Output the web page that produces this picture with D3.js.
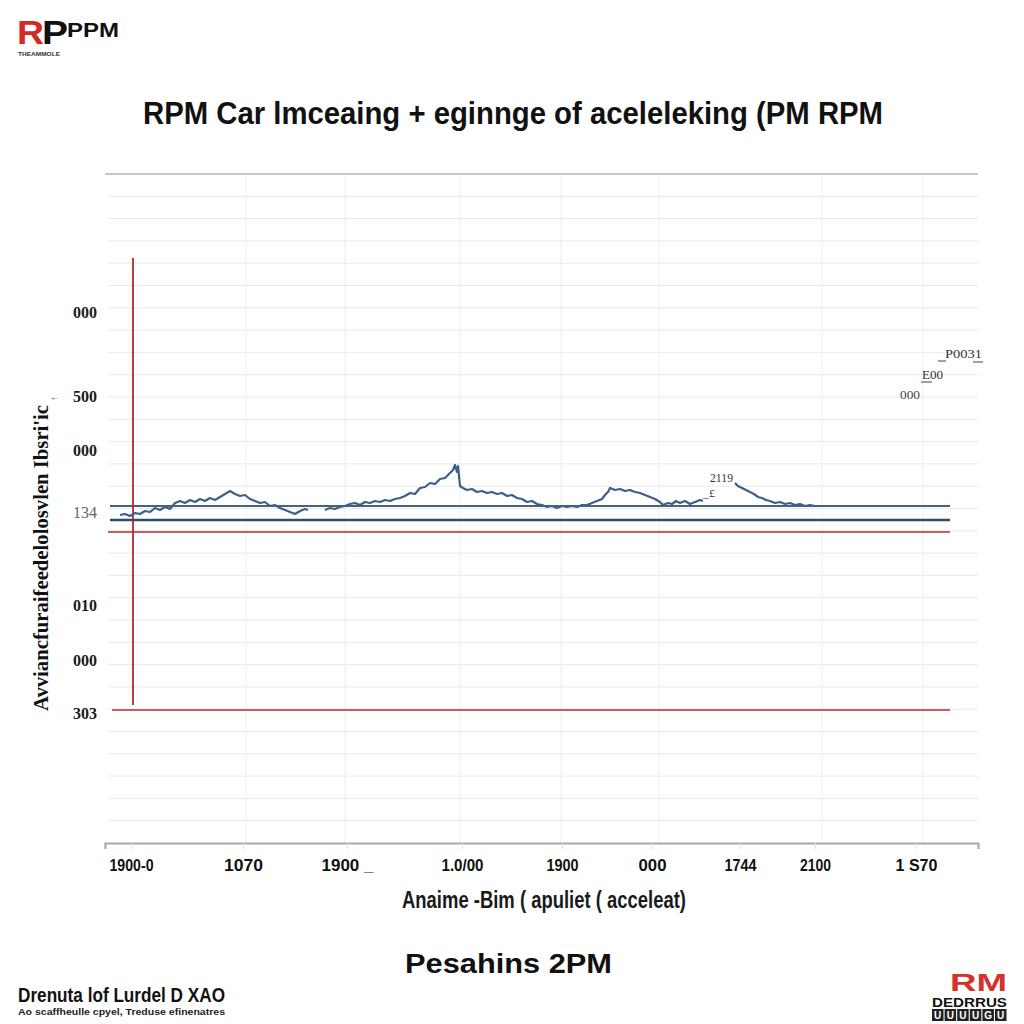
<!DOCTYPE html>
<html><head><meta charset="utf-8">
<script src="https://cdn.jsdelivr.net/npm/d3@7"></script>
<style>body{margin:0;background:#fff} svg{display:block}</style>
</head><body>
<svg id="c" width="1024" height="1024"></svg>
<script>
// ---- data ----
const xTickValues = [2.6, 13.8, 24.2, 35.7, 45.7, 54.7, 63.5, 71.0, 81.1];
const xTickLabels = ["1900-0", "1070", "1900 _", "1.0/00", "1900", "000", "1744", "2100", "1 S70"];
const yTickValues = [2655, 2235, 1965, 1655, 1190, 915, 650];
const yTickLabels = ["000", "500", "000", "134", "010", "000", "303"];
const gridXValues = [14.1, 24.0, 35.5, 45.6, 55.4, 71.7, 81.8];
const blueRefValues = [1685, 1615];
const redRefValues = [1555, 665];
const redMarkerTime = 2.8;
const redMarkerRange = [690, 2925];

const rpmSeg1 = [[1.5,1640],[2.0,1645],[2.5,1635],[3.0,1650],[3.5,1645],[4.0,1660],[4.5,1655],[5.0,1675],[5.5,1665],[6.0,1680],
  [6.5,1670],[7.0,1700],[7.5,1710],[8.0,1700],[8.5,1715],[9.0,1705],[9.5,1720],[10.0,1710],[10.5,1725],[11.0,1715],
  [11.5,1730],[12.0,1745],[12.5,1760],[13.0,1745],[13.5,1735],[14.0,1740],[14.5,1720],[15.0,1710],[15.5,1700],[16.0,1705],
  [16.5,1685],[17.0,1690],[17.5,1675],[18.0,1665],[18.5,1655],[19.0,1645],[19.5,1660],[20.0,1670],[20.3,1665]];
const rpmSeg2 = [[22.0,1665],[22.5,1675],[23.0,1670],[23.5,1680],[24.0,1685],[24.5,1695],[25.0,1700],[25.5,1690],[26.0,1705],[26.5,1700],
  [27.0,1710],[27.5,1705],[28.0,1715],[28.5,1710],[29.0,1720],[29.5,1725],[30.0,1735],[30.5,1750],[31.0,1745],[31.5,1775],
  [32.0,1780],[32.5,1800],[33.0,1795],[33.5,1820],[34.0,1825],[34.5,1850],[34.8,1865],[35.0,1890],[35.2,1855],[35.3,1885],
  [35.5,1785],[35.8,1775],[36.2,1765],[36.7,1770],[37.2,1755],[37.7,1760],[38.2,1750],[38.7,1755],[39.2,1745],[39.7,1750],
  [40.2,1735],[40.7,1740],[41.2,1725],[41.7,1720],[42.2,1705],[42.7,1710],[43.2,1695],[43.7,1690],[44.2,1680],[44.7,1685],
  [45.2,1675],[45.7,1685],[46.2,1680],[46.7,1685],[47.2,1680],[47.7,1690],[48.2,1690],[48.7,1700],[49.2,1710],[49.7,1720],
  [50.0,1740],[50.3,1755],[50.5,1775],[51.0,1765],[51.5,1770],[52.0,1760],[52.5,1765],[53.0,1755],[53.5,1750],[54.0,1740],
  [54.5,1730],[55.0,1720],[55.5,1705],[55.8,1690],[56.3,1700],[56.7,1695],[57.1,1710],[57.5,1700],[58.0,1710],[58.5,1695],
  [59.0,1705],[59.5,1715],[59.8,1710]];
const rpmSeg3 = [[63.0,1800],[63.3,1785],[63.7,1775],[64.1,1765],[64.5,1755],[64.9,1745],[65.3,1730],[65.7,1725],[66.1,1715],[66.5,1710],
  [67.0,1700],[67.5,1705],[68.0,1695],[68.5,1700],[69.0,1690],[69.5,1695],[70.0,1685],[70.5,1690],[71.0,1685],[71.5,1685]];

// ---- chart ----
const svg = d3.select("#c");
const x = d3.scaleLinear().domain([0, 87.3]).range([105, 978]);
const y = d3.scaleLinear().domain([0, 3345]).range([843, 174]);

function txt(px, py, s, o) {
  const t = svg.append("text").attr("x", px).attr("y", py).text(s)
    .attr("font-family", o.family || "Liberation Sans")
    .attr("font-size", o.size || 14)
    .attr("font-weight", o.weight || "normal")
    .attr("fill", o.fill || "#111")
    .attr("text-anchor", o.anchor || "start");
  if (o.len) t.attr("textLength", o.len).attr("lengthAdjust", "spacingAndGlyphs");
  if (o.rotate) t.attr("transform", `rotate(${o.rotate},${px},${py})`);
  return t;
}

// horizontal grid
const yGrid = d3.range(1, 30).map(i => i * 3345 / 30);
svg.append("g").selectAll("line").data(yGrid).join("line")
  .attr("x1", x(0.3)).attr("x2", x(87.3)).attr("y1", d => y(d)).attr("y2", d => y(d))
  .attr("stroke", "#e9e9e9").attr("stroke-width", 1);
// vertical grid
svg.append("g").selectAll("line").data(gridXValues).join("line")
  .attr("x1", d => x(d)).attr("x2", d => x(d)).attr("y1", y(3345)).attr("y2", y(0))
  .attr("stroke", "#eeeeee").attr("stroke-width", 1);
// top border
svg.append("line").attr("x1", x(0)).attr("x2", x(87.3)).attr("y1", y(3345)).attr("y2", y(3345))
  .attr("stroke", "#b5b5b5").attr("stroke-width", 1.5);

// x axis
const xLabelWidths = [44, 39, 52, 42, 32, 28, 32, 31, 42];
const xAxis = d3.axisBottom(x).tickValues(xTickValues).tickFormat((d, i) => xTickLabels[i]).tickSize(6).tickPadding(10);
const gx = svg.append("g").attr("transform", `translate(0,${y(0)})`).call(xAxis);
gx.select(".domain").attr("stroke", "#a8a8a8").attr("stroke-width", 2.2);
gx.selectAll(".tick line").attr("stroke", "#dddddd");
gx.selectAll(".tick text").attr("font-family", "Liberation Sans Narrow, Liberation Sans, sans-serif")
  .attr("font-weight", "bold").attr("font-size", 17).attr("fill", "#111")
  .attr("textLength", (d, i) => xLabelWidths[i]).attr("lengthAdjust", "spacingAndGlyphs");

// y axis
const yAxis = d3.axisLeft(y).tickValues(yTickValues).tickFormat((d, i) => yTickLabels[i]).tickSize(0).tickPadding(8);
const gy = svg.append("g").attr("transform", `translate(${x(0)},0)`).call(yAxis);
gy.select(".domain").remove();
gy.selectAll(".tick text").attr("font-family", "Liberation Serif, serif").attr("font-weight", "bold")
  .attr("font-size", 16).attr("fill", "#1a1a1a")
  .filter((d, i) => i === 3).attr("font-weight", "normal").attr("fill", "#666");

// reference lines
svg.append("line").attr("x1", x(0.5)).attr("x2", x(84.5)).attr("y1", y(blueRefValues[0])).attr("y2", y(blueRefValues[0]))
  .attr("stroke", "#4a6178").attr("stroke-width", 2);
svg.append("line").attr("x1", x(0.5)).attr("x2", x(84.5)).attr("y1", y(blueRefValues[1])).attr("y2", y(blueRefValues[1]))
  .attr("stroke", "#2e4d6b").attr("stroke-width", 2.5);
svg.append("line").attr("x1", x(0.3)).attr("x2", x(84.5)).attr("y1", y(redRefValues[0])).attr("y2", y(redRefValues[0]))
  .attr("stroke", "#b8292b").attr("stroke-width", 1.6);
svg.append("line").attr("x1", x(0.7)).attr("x2", x(84.5)).attr("y1", y(redRefValues[1])).attr("y2", y(redRefValues[1]))
  .attr("stroke", "#b8292b").attr("stroke-width", 1.6);
svg.append("line").attr("x1", x(redMarkerTime)).attr("x2", x(redMarkerTime))
  .attr("y1", y(redMarkerRange[0])).attr("y2", y(redMarkerRange[1]))
  .attr("stroke", "#b3282b").attr("stroke-width", 1.8);

// data line
const line = d3.line().x(d => x(d[0])).y(d => y(d[1]));
svg.append("g").selectAll("path").data([rpmSeg1, rpmSeg2, rpmSeg3]).join("path")
  .attr("d", line).attr("fill", "none").attr("stroke", "#3d6089").attr("stroke-width", 2.2)
  .attr("stroke-linejoin", "round");

// annotations
txt(710, 482, "2119", {family: "Liberation Serif", size: 12, fill: "#333", len: 23});
txt(703, 497, "_£", {family: "Liberation Serif", size: 11, fill: "#333", len: 12});
txt(945, 358, "P0031", {family: "Liberation Serif", size: 12, fill: "#333", len: 37});
txt(922, 379, "E00", {family: "Liberation Serif", size: 12, fill: "#333", len: 21});
txt(900, 399, "000", {family: "Liberation Serif", size: 12, fill: "#444", len: 20});
svg.append("line").attr("x1", 938).attr("x2", 946).attr("y1", 361).attr("y2", 361).attr("stroke", "#444");
svg.append("line").attr("x1", 973).attr("x2", 983).attr("y1", 362).attr("y2", 362).attr("stroke", "#444");
svg.append("line").attr("x1", 921).attr("x2", 932).attr("y1", 382).attr("y2", 382).attr("stroke", "#444");

// titles
txt(143, 124, "RPM Car lmceaing + eginnge of aceleleking (PM RPM", {family: "Liberation Sans Narrow, Liberation Sans", size: 32, weight: "bold", fill: "#111", len: 740});
txt(402, 908, "Anaime -Bim ( apuliet ( acceleat)", {family: "Liberation Sans Narrow, Liberation Sans", size: 23, weight: "bold", fill: "#1a1a1a", len: 284});
txt(48, 558, "Avviancfuraifeedelolosvlen Ibsri'ic", {family: "Liberation Serif", size: 21, weight: "bold", fill: "#111", anchor: "middle", len: 306, rotate: -90});
txt(50, 400, "←", {size: 10, fill: "#333"});
txt(405, 973, "Pesahins  2PM", {family: "Liberation Sans", size: 27, weight: "bold", fill: "#111", len: 207});
txt(18, 1002, "Drenuta lof Lurdel D XAO", {family: "Liberation Sans Narrow, Liberation Sans", size: 21, weight: "bold", fill: "#111", len: 207});
txt(18, 1015, "Ao scaffheulle cpyel,   Treduse efinenatres", {family: "Liberation Sans", size: 9, weight: "bold", fill: "#222", len: 207});

// top-left logo
txt(17, 44, "R", {family: "Liberation Sans", size: 34, weight: "bold", fill: "#d42a25", len: 27});
txt(42, 44, "P", {family: "Liberation Sans", size: 34, weight: "bold", fill: "#111", len: 26});
txt(67, 37, "PPM", {family: "Liberation Sans", size: 21, weight: "bold", fill: "#111", len: 52});
txt(18, 56, "THEAMMOLE", {family: "Liberation Sans", size: 5, weight: "bold", fill: "#333", len: 42});

// bottom-right logo
txt(950, 991, "RM", {family: "Liberation Sans", size: 24, weight: "bold", fill: "#d6322c", len: 57});
txt(932, 1007, "DEDRRUS", {family: "Liberation Sans", size: 13, weight: "bold", fill: "#111", len: 75});
const boxes = ["U","U","U","U","G","U"];
svg.append("g").selectAll("rect").data(boxes).join("rect")
  .attr("x", (d, i) => 932 + i * 12.6).attr("y", 1009).attr("width", 11.5).attr("height", 12).attr("fill", "#222");
svg.append("g").selectAll("text").data(boxes).join("text")
  .attr("x", (d, i) => 937.7 + i * 12.6).attr("y", 1019).attr("text-anchor", "middle")
  .attr("font-family", "Liberation Sans").attr("font-weight", "bold").attr("font-size", 10).attr("fill", "#fff").text(d => d);
</script>
</body></html>
